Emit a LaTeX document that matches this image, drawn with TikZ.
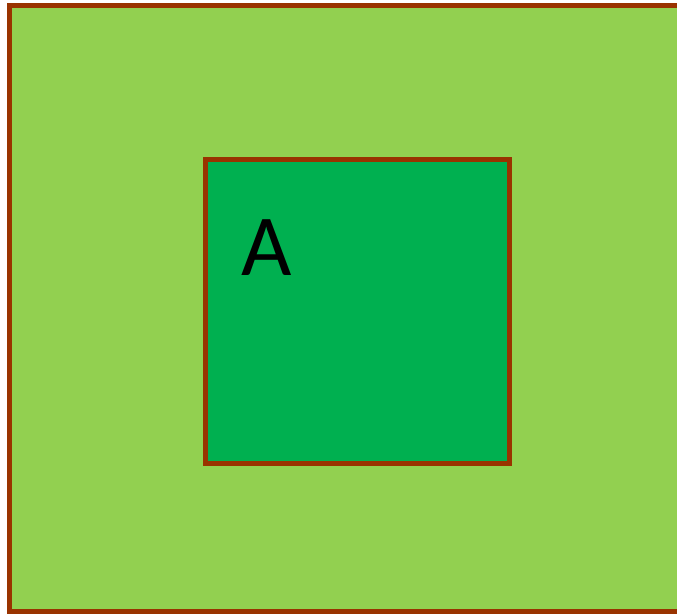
\documentclass[tikz,border=0pt]{standalone}
\usepackage{fontspec}
\setmainfont{Carlito}
\definecolor{lightfield}{HTML}{92D050}
\definecolor{darkfield}{HTML}{00B050}
\definecolor{edgebrown}{HTML}{993300}
\begin{document}
\begin{tikzpicture}[
  x=1pt, y=-1pt,
  field/.style={draw=edgebrown,line width=4.5pt,fill=lightfield},
  plot/.style={draw=edgebrown,line width=4.5pt,fill=darkfield,
    minimum width=304pt,minimum height=304pt,inner sep=0pt},
  lbl/.style={font=\fontsize{87}{87}\selectfont,inner sep=0pt,text=black}]
\useasboundingbox (0,0) rectangle (677,613);
\clip (0,0) rectangle (677,613);
\draw[field] (9.5,5.5) rectangle (700,611.5);
\node[plot] (plotA) at (357.25,311.25) {};
\node[lbl,anchor=base west] (labA) at (241,275) {A};
\end{tikzpicture}
\end{document}
